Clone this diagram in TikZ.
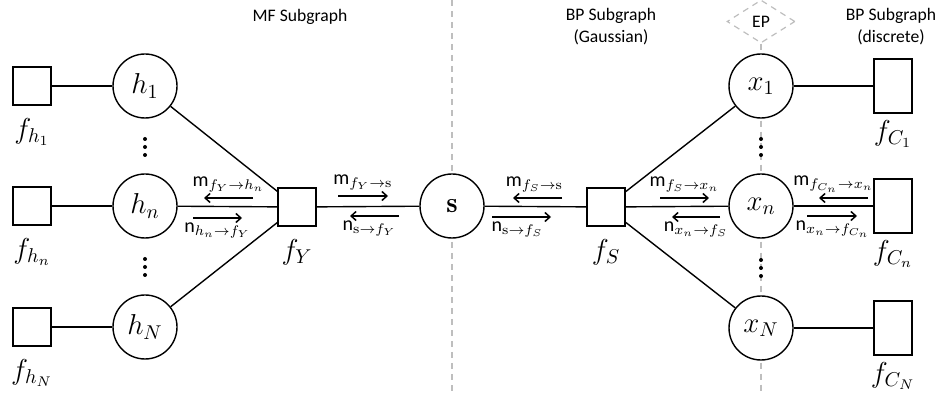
\documentclass[tikz,border=0pt]{standalone}
\usepackage{amsmath,amssymb}
\usepackage{fontspec}
\setsansfont{Carlito}
\usetikzlibrary{arrows.meta,positioning,shapes.geometric}
\definecolor{dashgray}{RGB}{190,190,190}
\newcommand{\msgm}[1]{\textsf{m}_{#1}}
\newcommand{\msgn}[1]{\textsf{n}_{#1}}

\begin{document}
\begin{tikzpicture}[x=0.5pt,y=-0.5pt,>={Straight Barb[length=2.5pt,width=4.5pt]},
  var/.style={circle,draw,line width=0.7pt,fill=white,minimum size=32pt,inner sep=0pt,font=\Large},
  fac/.style={rectangle,draw,line width=0.7pt,fill=white,minimum size=19pt,inner sep=0pt},
  facC/.style={fac,minimum width=19pt,minimum height=27pt},
  flab/.style={font=\Large,inner sep=1pt},
  edge/.style={line width=0.7pt},
  msg/.style={->,line width=0.75pt},
  mlab/.style={font=\normalsize,inner sep=2.5pt},
  nlab/.style={font=\normalsize,inner sep=2.2pt},
  sep/.style={dashgray,line width=0.6pt,dash pattern=on 3pt off 2.5pt},
  title/.style={font=\sffamily\fontsize{8.8}{11}\selectfont,align=center}]
  \useasboundingbox (0,0) rectangle (940,394);
  % subgraph borders
  \draw[sep] (452,0) -- (452,394);
  \node[diamond,draw=dashgray,dash pattern=on 3pt off 2.5pt,line width=0.6pt,minimum width=34pt,
    minimum height=21.5pt,inner sep=0pt,font=\sffamily\fontsize{8.8}{11}\selectfont] (ep) at (761,21.5) {EP};
  \draw[sep] (ep.south) -- (761,394);
  \node[title] (mf) at (300,17) {MF Subgraph};
  \node[title] (bpg) at (611,27) {BP Subgraph\\(Gaussian)};
  \node[title] (bpd) at (891,27) {BP Subgraph\\(discrete)};
  % MF part
  \foreach \i/\y in {1/86, n/206, N/327} {
    \node[fac,label={[flab,label distance=5pt]below:$f_{h_\i}$}] (fh\i) at (32,\y) {};
    \node[var] (h\i) at (145,\y) {$h_\i$};
    \draw[edge] (fh\i) -- (h\i);
  }
  \node[fac,label={[flab,label distance=5pt]below:$f_Y$}] (fY) at (297,207) {};
  \node[var] (s) at (452,206) {$\mathbf{s}$};
  \node[fac,label={[flab,label distance=5pt]below:$f_S$}] (fS) at (606,207) {};
  % BP part
  \foreach \i/\y in {1/86, n/206, N/328} {
    \node[var] (x\i) at (761,\y) {$x_\i$};
    \node[facC,label={[flab,label distance=2pt]below:$f_{C_\i}$}] (fC\i) at (893,\y) {};
    \draw[edge] (x\i) -- (fC\i);
    \draw[edge] (fS) -- (x\i);
    \draw[edge] (h\i) -- (fY);
  }
  \draw[edge] (fY) -- (s) -- (fS);
  % dots
  \foreach \x/\y in {145/147, 145/267, 761/147, 761/268}
    \foreach \d in {-8,0,8}
      \fill (\x,\y+\d) circle (1pt);
  % messages
  \draw[msg] (253,198) -- (204,198) node[mlab,midway,above] {$\msgm{f_Y\to h_n}$};
  \draw[msg] (193,218) -- (242,218) node[nlab,midway,below] {$\msgn{h_n\to f_Y}$};
  \draw[msg] (338,196) -- (388,196) node[mlab,midway,above] {$\msgm{f_Y\to\mathrm{s}}$};
  \draw[msg] (399,216) -- (350,216) node[nlab,midway,below,xshift=-2.5pt] {$\msgn{\mathrm{s}\to f_Y}$};
  \draw[msg] (562,198) -- (513,198) node[mlab,midway,above,xshift=-1.5pt] {$\msgm{f_S\to\mathrm{s}}$};
  \draw[msg] (492,217) -- (551,217) node[nlab,midway,below,xshift=-2pt] {$\msgn{\mathrm{s}\to f_S}$};
  \draw[msg] (660,198) -- (709,198) node[mlab,midway,above] {$\msgm{f_S\to x_n}$};
  \draw[msg] (720,217) -- (672,217) node[nlab,midway,below] {$\msgn{x_n\to f_S}$};
  \draw[msg] (868,198) -- (819,198) node[mlab,midway,above,xshift=-5pt] {$\msgm{f_{C_n}\to x_n}$};
  \draw[msg] (807,216) -- (857,216) node[nlab,midway,below,xshift=0.5pt] {$\msgn{x_n\to f_{C_n}}$};
\end{tikzpicture}
\end{document}
